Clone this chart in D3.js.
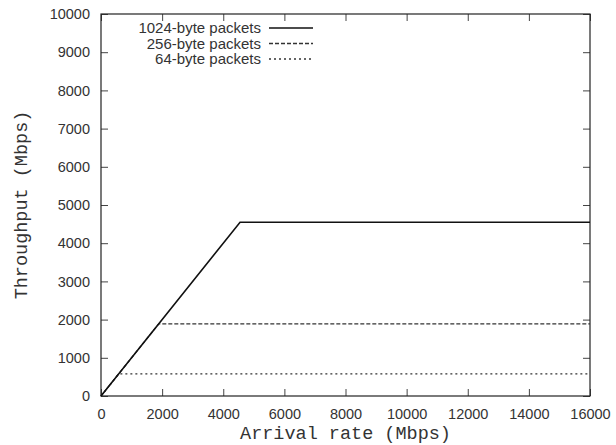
<!DOCTYPE html>
<html>
<head>
<meta charset="utf-8">
<script src="https://cdn.jsdelivr.net/npm/d3@7"></script>
<style>
  body { margin: 0; background: #fff; }
</style>
</head>
<body>
<svg id="chart" width="616" height="445"></svg>
<script>
// data
const seriesNames = ['1024-byte packets', '256-byte packets', '64-byte packets']
const arrival1024 = [0, 4550, 16000]
const throughput1024 = [0, 4550, 4550]
const arrival256 = [0, 1890, 16000]
const throughput256 = [0, 1890, 1890]
const arrival64 = [0, 580, 16000]
const throughput64 = [0, 580, 580]
const xTicks = [0, 2000, 4000, 6000, 8000, 10000, 12000, 14000, 16000]
const yTicks = [0, 1000, 2000, 3000, 4000, 5000, 6000, 7000, 8000, 9000, 10000]

const svg = d3.select('#chart')
const margin = { top: 14, right: 26, bottom: 49, left: 101 }
const width = 616 - margin.left - margin.right
const height = 445 - margin.top - margin.bottom

const x = d3.scaleLinear().domain([0, 16000]).range([0, width])
const y = d3.scaleLinear().domain([0, 10000]).range([height, 0])

const g = svg.append('g').attr('transform', `translate(${margin.left},${margin.top})`)

const tickLen = 7
const sansFont = '"Liberation Sans", Arial, sans-serif'
const monoFont = '"Liberation Mono", "Courier New", monospace'

// оси: gnuplot-стиль, засечки внутрь со всех сторон
g.append('g')
  .attr('transform', `translate(0,${height})`)
  .call(d3.axisBottom(x).tickValues(xTicks).tickSize(-tickLen).tickPadding(13).tickFormat(d3.format('d')))
g.append('g')
  .call(d3.axisTop(x).tickValues(xTicks).tickSize(-tickLen).tickFormat(''))
g.append('g')
  .call(d3.axisLeft(y).tickValues(yTicks).tickSize(-tickLen).tickPadding(11).tickFormat(d3.format('d')))
g.append('g')
  .attr('transform', `translate(${width},0)`)
  .call(d3.axisRight(y).tickValues(yTicks).tickSize(-tickLen).tickFormat(''))

g.selectAll('.domain').remove()
g.selectAll('.tick line').attr('stroke', '#444').attr('stroke-width', 1)
g.selectAll('.tick text')
  .attr('font-family', sansFont)
  .attr('font-size', '14.5px')
  .attr('fill', '#333')

// рамка
g.append('rect')
  .attr('x', 0).attr('y', 0)
  .attr('width', width).attr('height', height)
  .attr('fill', 'none')
  .attr('stroke', '#222')
  .attr('stroke-width', 1.2)

// подписи осей
svg.append('text')
  .text('Arrival rate (Mbps)')
  .attr('x', margin.left + width / 2)
  .attr('y', 439)
  .attr('text-anchor', 'middle')
  .attr('font-family', monoFont)
  .attr('font-size', '18.5px')
  .attr('fill', '#333')

svg.append('text')
  .text('Throughput (Mbps)')
  .attr('transform', `translate(27,${margin.top + height / 2}) rotate(-90)`)
  .attr('text-anchor', 'middle')
  .attr('font-family', monoFont)
  .attr('font-size', '18.5px')
  .attr('fill', '#333')

// линии
const series = [
  { name: seriesNames[0], xs: arrival1024, ys: throughput1024, dash: null, w: 1.6, color: '#111' },
  { name: seriesNames[1], xs: arrival256, ys: throughput256, dash: '4,2', w: 1.3, color: '#333' },
  { name: seriesNames[2], xs: arrival64, ys: throughput64, dash: '2,3', w: 1.3, color: '#333' },
]

const line = d3.line().x(d => x(d[0])).y(d => y(d[1]))

series.slice().reverse().forEach(s => {
  g.append('path')
    .datum(s.xs.map((v, i) => [v, s.ys[i]]))
    .attr('d', line)
    .attr('fill', 'none')
    .attr('stroke', s.color)
    .attr('stroke-width', s.w)
    .attr('stroke-dasharray', s.dash)
})

// легенда
const legend = svg.append('g').attr('transform', 'translate(261, 28)')
series.forEach((s, i) => {
  const row = legend.append('g').attr('transform', `translate(0,${i * 15.5})`)
  row.append('text')
    .text(s.name)
    .attr('text-anchor', 'end')
    .attr('dy', '0.35em')
    .attr('font-family', sansFont)
    .attr('font-size', '15px')
    .attr('fill', '#333')
  row.append('line')
    .attr('x1', 8).attr('x2', 52)
    .attr('y1', 0).attr('y2', 0)
    .attr('stroke', s.color)
    .attr('stroke-width', s.w)
    .attr('stroke-dasharray', s.dash)
})
</script>
</body>
</html>
